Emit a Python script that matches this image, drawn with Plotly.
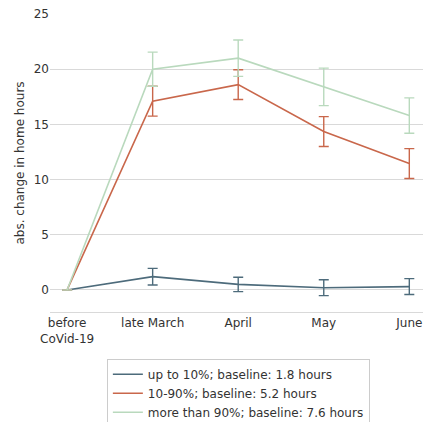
import plotly.graph_objects as go

categories = ["before<br>CoVid-19", "late March", "April", "May", "June"]
series_names = [
    "up to 10%; baseline: 1.8 hours",
    "10-90%; baseline: 5.2 hours",
    "more than 90%; baseline: 7.6 hours",
]
low_vals = [0, 1.2, 0.5, 0.2, 0.3]
low_err = [0, 0.75, 0.65, 0.72, 0.72]
mid_vals = [0, 17.1, 18.6, 14.35, 11.45]
mid_err = [0, 1.35, 1.35, 1.35, 1.35]
high_vals = [0, 20.0, 21.0, 18.4, 15.8]
high_err = [0, 1.55, 1.65, 1.7, 1.6]
colors = ["#4d6b7b", "#c9674b", "#b9d9bd"]
y_ticks = [0, 5, 10, 15, 20, 25]

x = list(range(len(categories)))
fig = go.Figure()
for name, vals, errs, col in zip(series_names, [low_vals, mid_vals, high_vals],
                                 [low_err, mid_err, high_err], colors):
    fig.add_trace(go.Scatter(
        x=x, y=vals, mode="lines", name=name,
        line=dict(color=col, width=1.6),
        error_y=dict(type="data", array=errs, visible=True,
                     color=col, thickness=1.4, width=5),
    ))

fig.update_layout(
    width=423, height=422,
    margin=dict(l=50, r=0, t=14, b=110, autoexpand=False),
    plot_bgcolor="white", paper_bgcolor="white",
    font=dict(family="DejaVu Sans", size=12, color="#333333"),
    xaxis=dict(
        range=[-0.2, 4.16], tickmode="array", tickvals=x, ticktext=categories,
        showgrid=False, zeroline=False, showline=True, linecolor="#d9d9d9",
        linewidth=1, ticks="", tickfont=dict(size=12, color="#333333"),
        automargin=False,
    ),
    yaxis=dict(
        range=[-2, 25], tickmode="array", tickvals=y_ticks,
        showgrid=True, gridcolor="#d9d9d9", gridwidth=1, zeroline=False,
        showline=False, ticks="", tickfont=dict(size=12, color="#333333"),
        automargin=False,
        title=dict(text="abs. change in home hours", font=dict(size=12, color="#333333"),
                   standoff=6),
    ),
    legend=dict(
        x=0.505, xanchor="center", y=-0.157, yanchor="top",
        bgcolor="white", bordercolor="#cccccc", borderwidth=1,
        font=dict(size=12, color="#333333"), itemwidth=30,
        tracegroupgap=0,
    ),
    showlegend=True,
)

fig.write_html(
    "out.html",
    config={"displayModeBar": False},
    post_script="document.body.style.margin='0';document.body.style.overflow='hidden';",
)
